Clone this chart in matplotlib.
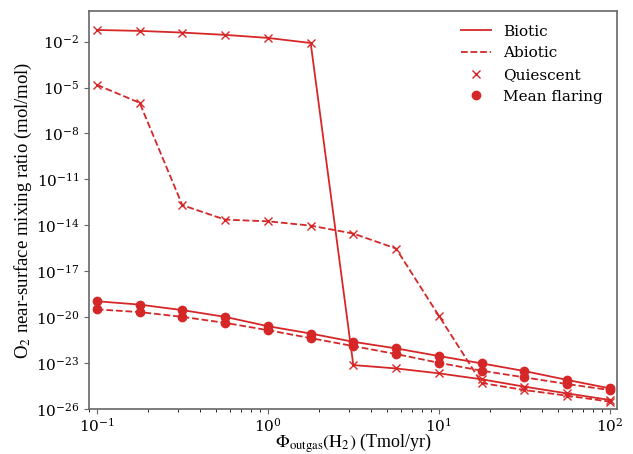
import numpy as np
import matplotlib
matplotlib.use('Agg')
import matplotlib.pyplot as plt
from matplotlib.lines import Line2D

# --- Data ---
phi_h2 = [0.1, 0.178, 0.316, 0.562, 1.0, 1.78, 3.16, 5.62, 10.0, 17.8, 31.6, 56.2, 100.0]

# log10 of O2 mixing ratio
biotic_quiescent = [-1.24, -1.30, -1.41, -1.56, -1.76, -2.09, -23.13, -23.35, -23.67, -24.06, -24.54, -24.98, -25.41]
abiotic_quiescent = [-4.82, -6.00, -12.68, -13.63, -13.74, -14.02, -14.54, -15.52, -19.91, -24.30, -24.76, -25.13, -25.52]
biotic_flaring = [-18.96, -19.18, -19.54, -19.98, -20.59, -21.07, -21.61, -22.04, -22.54, -23.02, -23.52, -24.10, -24.65]
abiotic_flaring = [-19.49, -19.67, -19.98, -20.37, -20.85, -21.37, -21.89, -22.41, -22.98, -23.50, -23.93, -24.37, -24.76]

red = '#d62728'

plt.rcParams['font.family'] = 'DejaVu Serif'
plt.rcParams['mathtext.fontset'] = 'dejavuserif'

fig = plt.figure(figsize=(6.33, 4.54), dpi=100)
ax = fig.add_axes([0.1406, 0.0991, 0.8341, 0.8767])

ax.plot(phi_h2, 10.0**np.array(biotic_quiescent), '-x', color=red, lw=1.3, ms=6)
ax.plot(phi_h2, 10.0**np.array(abiotic_quiescent), '--x', color=red, lw=1.3, ms=6)
ax.plot(phi_h2, 10.0**np.array(biotic_flaring), '-o', color=red, lw=1.3, ms=6)
ax.plot(phi_h2, 10.0**np.array(abiotic_flaring), '--o', color=red, lw=1.3, ms=6)

ax.set_xscale('log')
ax.set_yscale('log')
ax.set_xlim(0.09, 110)
ax.set_ylim(1e-26, 1)
ax.set_yticks([10.0**k for k in range(-26, 0, 3)])
ax.yaxis.set_minor_locator(matplotlib.ticker.NullLocator())

for s in ax.spines.values():
    s.set_color('#666666')
    s.set_linewidth(1.2)
ax.tick_params(colors='#666666', labelcolor='black', labelsize=11)
ax.tick_params(axis='x', pad=2)

ax.set_xlabel(r'$\Phi_{\mathrm{outgas}}(\mathrm{H_2})$ (Tmol/yr)',
              family='Liberation Serif', size=13, labelpad=-2)
ax.set_ylabel(r'O$_2$ near-surface mixing ratio (mol/mol)',
              family='Liberation Serif', size=13.5, labelpad=1)
ax.xaxis.label.set_math_fontfamily('stix')
ax.yaxis.label.set_math_fontfamily('stix')

handles = [
    Line2D([], [], color=red, ls='-', lw=1.3),
    Line2D([], [], color=red, ls='--', lw=1.3),
    Line2D([], [], color=red, ls='none', marker='x', ms=6),
    Line2D([], [], color=red, ls='none', marker='o', ms=6),
]
ax.legend(handles, ['Biotic', 'Abiotic', 'Quiescent', 'Mean flaring'],
          loc='upper right', frameon=False, fontsize=11)

fig.savefig('out.png', dpi=100)
